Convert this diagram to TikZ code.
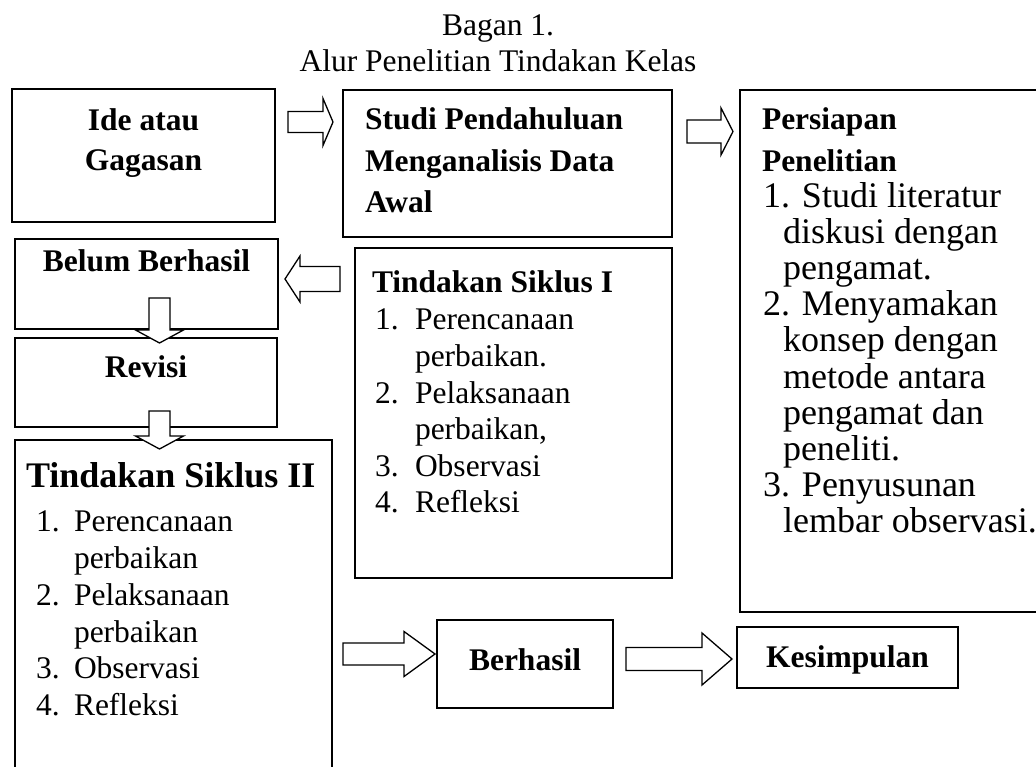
\documentclass[tikz,border=0pt]{standalone}
\usepackage{fontspec}
\setmainfont{Liberation Serif}
\newcommand\harrow[6]{\draw[barrow] (#1,{#4-#5}) -- (#2,{#4-#5}) -- (#2,{#4-#6}) -- (#3,#4) -- (#2,{#4+#6}) -- (#2,{#4+#5}) -- (#1,{#4+#5}) -- cycle;}
\newcommand\varrow[6]{\draw[barrow] ({#1-#5},#2) -- ({#1-#5},#3) -- ({#1-#6},#3) -- (#1,#4) -- ({#1+#6},#3) -- ({#1+#5},#3) -- ({#1+#5},#2) -- cycle;}
\tikzset{
  box/.style={draw, line width=1.6pt, inner sep=0pt, outer sep=0pt, rectangle},
  barrow/.style={draw, fill=white, line width=1.3pt, line join=miter},
  txt/.style={inner sep=0pt, outer sep=0pt, font=\fontsize{31.5}{36}\selectfont},
  btxt/.style={inner sep=0pt, outer sep=0pt, font=\fontsize{31.5}{36}\selectfont\bfseries},
  big/.style={inner sep=0pt, outer sep=0pt, font=\fontsize{36}{36}\selectfont},
  bbig/.style={inner sep=0pt, outer sep=0pt, font=\fontsize{36}{36}\selectfont\bfseries},
}
\begin{document}
\begin{tikzpicture}[x=1pt,y=-1pt]
\useasboundingbox (0,0) rectangle (1036,767);
% title
\node[txt, anchor=base] (title1) at (498,36) {Bagan 1.};
\node[txt, anchor=base] (title2) at (498,72) {Alur Penelitian Tindakan Kelas};
% boxes
\node[box, minimum width=263pt, minimum height=133pt] (ide) at (143.5,155.5) {};
\node[box, minimum width=329pt, minimum height=147pt] (studi) at (507.5,163.5) {};
\node[box, minimum width=305pt, minimum height=522pt] (persiapan) at (892.5,351) {};
\node[box, minimum width=263pt, minimum height=90pt] (belum) at (146.5,284) {};
\node[box, minimum width=262pt, minimum height=89pt] (revisi) at (146,382.5) {};
\node[box, minimum width=317pt, minimum height=330pt] (ts1) at (513.5,413) {};
\node[box, minimum width=317pt, minimum height=335pt] (ts2) at (173.5,607.5) {};
\node[box, minimum width=176pt, minimum height=88pt] (berhasil) at (525,664) {};
\node[box, minimum width=221pt, minimum height=61pt] (kesimpulan) at (847.5,657.5) {};
% block arrows
\harrow{288}{323}{333}{122}{10.5}{23.5}
\harrow{687}{721}{733}{131.5}{11.5}{23.5}
\harrow{340}{300}{285}{279}{12.5}{23}
\varrow{159.5}{298}{330}{343}{10.5}{24}
\varrow{159.5}{411}{436}{449}{10.5}{24}
\harrow{343}{404}{435}{654}{11}{22.5}
\harrow{626}{702}{732}{659}{11.5}{26}
% Ide
\node[btxt, anchor=base] (ide1) at (143.5,131) {Ide atau};
\node[btxt, anchor=base] (ide2) at (143.5,171) {Gagasan};
% Studi
\node[btxt, anchor=base west] (st1) at (365,130) {Studi Pendahuluan};
\node[btxt, anchor=base west] (st2) at (365,172) {Menganalisis Data};
\node[btxt, anchor=base west] (st3) at (365,213) {Awal};
% Persiapan
\node[btxt, anchor=base west] (p1) at (762,130) {Persiapan};
\node[btxt, anchor=base west] (p2) at (762,172) {Penelitian};
\node[big, anchor=base west] (p3) at (763,208) {1. Studi literatur};
\node[big, anchor=base west] (p4) at (783,244) {diskusi dengan};
\node[big, anchor=base west] (p5) at (783,280) {pengamat.};
\node[big, anchor=base west] (p6) at (763,316) {2. Menyamakan};
\node[big, anchor=base west] (p7) at (783,352) {konsep dengan};
\node[big, anchor=base west] (p8) at (783,388) {metode antara};
\node[big, anchor=base west] (p9) at (783,424) {pengamat dan};
\node[big, anchor=base west] (p10) at (783,460) {peneliti.};
\node[big, anchor=base west] (p11) at (763,496) {3. Penyusunan};
\node[big, anchor=base west] (p12) at (783,532) {lembar observasi.};
% Belum, Revisi
\node[btxt, anchor=base] (bl) at (146.5,272) {Belum Berhasil};
\node[btxt, anchor=base] (rv) at (146,377) {Revisi};
% Tindakan Siklus I
\node[btxt, anchor=base west] (a0) at (372,293) {Tindakan Siklus I};
\node[txt, anchor=base west] (a1n) at (375,330) {1.};
\node[txt, anchor=base west] (a1) at (415,330) {Perencanaan};
\node[txt, anchor=base west] (a1b) at (415,366.5) {perbaikan.};
\node[txt, anchor=base west] (a2n) at (375,403) {2.};
\node[txt, anchor=base west] (a2) at (415,403) {Pelaksanaan};
\node[txt, anchor=base west] (a2b) at (415,439.5) {perbaikan,};
\node[txt, anchor=base west] (a3n) at (375,476) {3.};
\node[txt, anchor=base west] (a3) at (415,476) {Observasi};
\node[txt, anchor=base west] (a4n) at (375,512.5) {4.};
\node[txt, anchor=base west] (a4) at (415,512.5) {Refleksi};
% Tindakan Siklus II
\node[bbig, anchor=base west] (b0) at (26,487) {Tindakan Siklus II};
\node[txt, anchor=base west] (b1n) at (36,531) {1.};
\node[txt, anchor=base west] (b1) at (74,531) {Perencanaan};
\node[txt, anchor=base west] (b1b) at (74,568) {perbaikan};
\node[txt, anchor=base west] (b2n) at (36,605) {2.};
\node[txt, anchor=base west] (b2) at (74,605) {Pelaksanaan};
\node[txt, anchor=base west] (b2b) at (74,642) {perbaikan};
\node[txt, anchor=base west] (b3n) at (36,678) {3.};
\node[txt, anchor=base west] (b3) at (74,678) {Observasi};
\node[txt, anchor=base west] (b4n) at (36,715) {4.};
\node[txt, anchor=base west] (b4) at (74,715) {Refleksi};
% Berhasil, Kesimpulan
\node[btxt, anchor=base] (bh) at (525,670) {Berhasil};
\node[btxt, anchor=base] (ks) at (847.5,667) {Kesimpulan};
\end{tikzpicture}
\end{document}
